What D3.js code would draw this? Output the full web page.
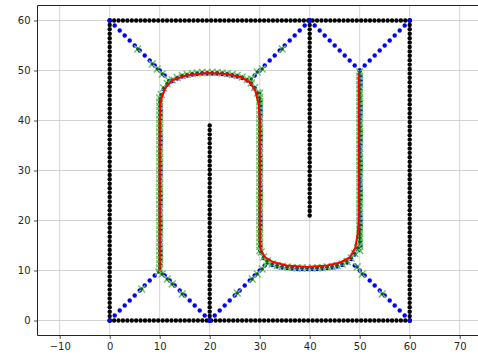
<!DOCTYPE html>
<html>
<head>
<meta charset="utf-8">
<script src="https://cdn.jsdelivr.net/npm/d3@7"></script>
<style>
  html, body { margin: 0; padding: 0; background: #fff; }
  svg text { font-family: "DejaVu Sans", sans-serif; font-size: 10px; fill: #262626; }
</style>
</head>
<body>
<div id="chart"></div>
<script>
// tick labels
const xTicks = [-10, 0, 10, 20, 30, 40, 50, 60, 70];
const yTicks = [0, 10, 20, 30, 40, 50, 60];

// black walls: x0, y0, x1, y1, number of gaps between dots
const wallSegments = [
  [0, 0, 60, 0, 68],
  [0, 60, 60, 60, 68],
  [0, 0, 0, 60, 68],
  [60, 0, 60, 60, 68],
  [20, 0, 20, 39, 44],
  [40, 21, 40, 60, 44]
];

// blue diagonals (one dot per unit): x0, y0, x1, y1
const diagonalRuns = [
  [0, 60, 11, 49],
  [40, 60, 29, 49],
  [40, 60, 50, 50],
  [60, 60, 50, 50],
  [0, 0, 10, 10],
  [20, 0, 10, 10],
  [20, 0, 31, 11],
  [60, 0, 49, 11]
];

// blue centre line, vertical parts: x, yFrom, yTo
const centerRuns = [
  [10.2, 11, 44],
  [30.2, 15, 44],
  [50.2, 15, 49]
];

const topArcBlue = [
  [10.3, 45], [10.8, 46.3], [11.5, 47.2], [12.5, 47.9], [13.5, 48.4], [14.5, 48.8],
  [15.5, 49], [16.5, 49.2], [17.5, 49.3], [18.5, 49.4], [19.5, 49.4], [20.5, 49.4],
  [21.5, 49.4], [22.5, 49.3], [23.5, 49.2], [24.5, 49], [25.5, 48.8], [26.5, 48.5],
  [27.5, 48], [28.3, 47.3], [29, 46.4], [29.6, 45.3]
];

const bottomArcBlue = [
  [30.3, 13.5], [30.8, 12.5], [31.5, 11.7], [32.5, 11.1], [33.5, 10.8], [34.5, 10.6],
  [35.5, 10.5], [36.5, 10.4], [37.5, 10.3], [38.5, 10.3], [39.5, 10.3], [40.5, 10.3],
  [41.5, 10.3], [42.5, 10.4], [43.5, 10.5], [44.5, 10.6], [45.5, 10.8], [46.5, 11.1],
  [47.5, 11.6], [48.3, 12.3], [49, 13.2], [49.6, 14.3]
];

// green waypoints on the diagonals
const greenDiag = [
  [5.6, 54.3], [8.5, 51.3], [9.5, 50.3], [10.5, 49.3], [11.8, 48],
  [34.5, 54.3], [30.5, 50.3], [29.5, 49.7], [28.3, 48.3],
  [6.4, 6.3], [9.8, 9.7], [10.5, 9.3],
  [11.5, 8.3], [12.5, 7.3], [14.5, 5.3],
  [25.5, 5.5], [28.5, 8.3], [29.5, 9.3], [30.5, 10.3], [31.5, 11.5],
  [49.5, 10.7], [50.5, 9.3], [54.5, 5.3]
];

// green waypoints on the centre line, vertical parts: x, yFrom, yTo, step
const greenRuns = [
  [10, 10.5, 45, 0.85],
  [30, 14, 45.5, 0.85],
  [50, 14, 50, 0.85]
];

// red route
const route = [
  [10, 10], [10, 20], [10, 30], [10, 40], [10.1, 43], [10.4, 44.7], [11.3, 46.8],
  [12.6, 48.1], [15.2, 49], [19.4, 49.5], [23.4, 49.3], [26.1, 48.7], [28, 47.7],
  [29.1, 46], [29.8, 43.3], [30, 40], [30, 30], [30, 20], [30, 16], [30.2, 14.2],
  [31, 12.7], [32.7, 11.7], [35.4, 11], [39.5, 10.7], [43.5, 11], [46.1, 11.6],
  [48, 12.6], [49.1, 14.5], [49.6, 17.3], [49.8, 20], [49.8, 30], [49.8, 40], [49.8, 49.5]
];

const width = 478, height = 356;
const margin = {left: 37.5, top: 5.5, bottom: 20.5};

const x = d3.scaleLinear().domain([-14.44, 74.2]).range([margin.left, margin.left + 88.64 * 5]);
const y = d3.scaleLinear().domain([-3, 63]).range([height - margin.bottom, margin.top]);

const svg = d3.select('#chart').append('svg')
  .attr('width', width)
  .attr('height', height);

// grid
svg.append('g').selectAll('line').data(xTicks).enter().append('line')
  .attr('x1', d => x(d)).attr('x2', d => x(d))
  .attr('y1', y.range()[0]).attr('y2', y.range()[1])
  .attr('stroke', '#c8c8c8').attr('stroke-width', 0.8);
svg.append('g').selectAll('line').data(yTicks).enter().append('line')
  .attr('y1', d => y(d)).attr('y2', d => y(d))
  .attr('x1', x.range()[0]).attr('x2', x.range()[1])
  .attr('stroke', '#c8c8c8').attr('stroke-width', 0.8);

// expand helpers
function wallDots(seg) {
  const [x0, y0, x1, y1, n] = seg;
  return d3.range(n + 1).map(i => [x0 + (x1 - x0) * i / n, y0 + (y1 - y0) * i / n]);
}
function diagDots(seg) {
  const [x0, y0, x1, y1] = seg;
  const n = Math.abs(x1 - x0);
  return d3.range(n + 1).map(i => [x0 + (x1 - x0) * i / n, y0 + (y1 - y0) * i / n]);
}

const blackPts = wallSegments.flatMap(wallDots);
const bluePts = diagonalRuns.flatMap(diagDots)
  .concat(centerRuns.flatMap(([cx, a, b]) => d3.range(a, b + 0.01, 1).map(v => [cx, v])))
  .concat(topArcBlue, bottomArcBlue);
const greenPts = greenDiag
  .concat(greenRuns.flatMap(([cx, a, b, s]) => d3.range(a, b + 0.01, s).map(v => [cx, v])))
  .concat(topArcBlue.map(p => [p[0], p[1] + 0.2]))
  .concat(bottomArcBlue.map(p => [p[0], p[1] + 0.2]));

const plot = svg.append('g');

plot.append('g').selectAll('circle').data(blackPts).enter().append('circle')
  .attr('cx', d => x(d[0])).attr('cy', d => y(d[1])).attr('r', 2.2)
  .attr('fill', '#000');

plot.append('g').selectAll('circle').data(bluePts).enter().append('circle')
  .attr('cx', d => x(d[0])).attr('cy', d => y(d[1])).attr('r', 2.2)
  .attr('fill', '#0000ff');

const g = plot.append('g').selectAll('g').data(greenPts).enter().append('g')
  .attr('transform', d => `translate(${x(d[0])},${y(d[1])})`);
g.append('path')
  .attr('d', 'M-3.4,-3.4L3.4,3.4M-3.4,3.4L3.4,-3.4')
  .attr('stroke', '#6cc264').attr('stroke-width', 1.4).attr('fill', 'none');
g.append('rect')
  .attr('x', -1.4).attr('y', -1.4).attr('width', 2.8).attr('height', 2.8)
  .attr('transform', 'rotate(45)')
  .attr('fill', '#0b5e1e');

plot.append('path')
  .datum(route)
  .attr('d', d3.line().x(d => x(d[0])).y(d => y(d[1])))
  .attr('fill', 'none').attr('stroke', '#ff0000').attr('stroke-width', 2)
  .attr('stroke-linejoin', 'round');

// axes
const xAxis = d3.axisBottom(x).tickValues(xTicks).tickSize(3.5).tickPadding(3.5)
  .tickFormat(d => d < 0 ? '\u2212' + Math.abs(d) : d);
const yAxis = d3.axisLeft(y).tickValues(yTicks).tickSize(3.5).tickPadding(3.5);

const gx = svg.append('g').attr('transform', `translate(0,${y.range()[0]})`).call(xAxis);
const gy = svg.append('g').attr('transform', `translate(${x.range()[0]},0)`).call(yAxis);
[gx, gy].forEach(a => {
  a.select('.domain').remove();
  a.selectAll('.tick line').attr('stroke', '#222').attr('stroke-width', 0.8);
  a.selectAll('.tick text').attr('font-size', 10).attr('font-family', 'DejaVu Sans').attr('fill', '#262626');
});

// spines
svg.append('line').attr('x1', x.range()[0]).attr('x2', x.range()[0])
  .attr('y1', y.range()[0]).attr('y2', y.range()[1]).attr('stroke', '#222').attr('stroke-width', 1);
svg.append('line').attr('x1', x.range()[0]).attr('x2', width + 10)
  .attr('y1', y.range()[0]).attr('y2', y.range()[0]).attr('stroke', '#222').attr('stroke-width', 1);
svg.append('line').attr('x1', x.range()[0]).attr('x2', width + 10)
  .attr('y1', y.range()[1]).attr('y2', y.range()[1]).attr('stroke', '#222').attr('stroke-width', 1);
</script>
</body>
</html>
